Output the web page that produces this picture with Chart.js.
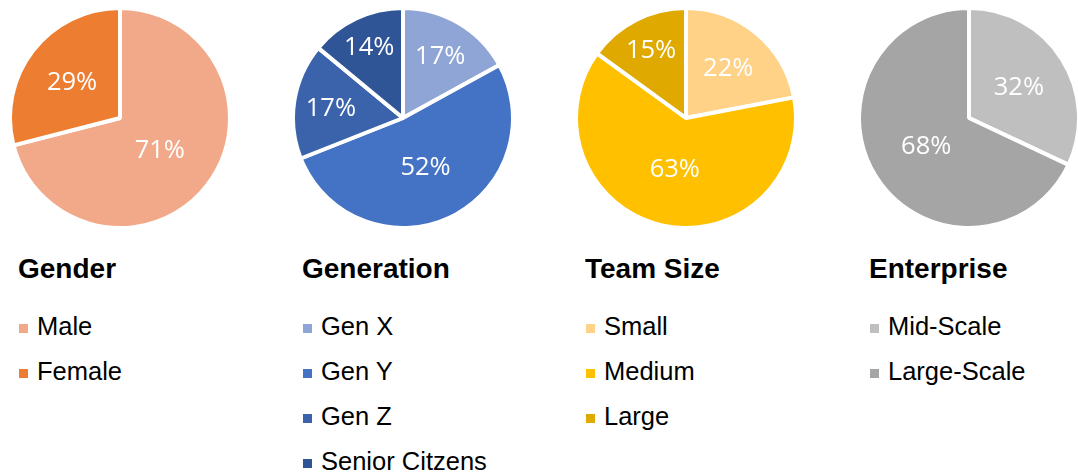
<!DOCTYPE html>
<html><head><meta charset="utf-8">
<script src="https://cdn.jsdelivr.net/npm/chart.js@4.4.1/dist/chart.umd.min.js"></script>
<style>
html,body{margin:0;padding:0;background:#fff;width:1078px;height:476px;overflow:hidden;position:relative;}
canvas{position:absolute;top:6px;}
.title{position:absolute;top:255px;font:bold 28px "Liberation Sans",Arial,sans-serif;line-height:28px;color:#000;white-space:nowrap;}
.legend{position:absolute;top:303.5px;margin:0;padding:0;list-style:none;font:25.5px "Liberation Sans",Arial,sans-serif;color:#000;}
.legend li{height:45.3px;line-height:45.3px;white-space:nowrap;position:relative;padding-left:19px;}
.legend .box{position:absolute;left:1px;top:20px;width:9px;height:9px;}
</style>
</head><body>
<canvas id="c0" width="224" height="224" style="left:8px"></canvas>
<canvas id="c1" width="224" height="224" style="left:291px"></canvas>
<canvas id="c2" width="224" height="224" style="left:574px"></canvas>
<canvas id="c3" width="224" height="224" style="left:857px"></canvas>
<div class="title" style="left:18px">Gender</div>
<div class="title" style="left:302px">Generation</div>
<div class="title" style="left:585px">Team Size</div>
<div class="title" style="left:869px">Enterprise</div>
<ul class="legend" id="l0" style="left:18px"></ul>
<ul class="legend" id="l1" style="left:302px"></ul>
<ul class="legend" id="l2" style="left:585px"></ul>
<ul class="legend" id="l3" style="left:869px"></ul>
<script>
// ---- data ----
const genderLabels = ['Male', 'Female'];
const genderValues = [71, 29];
const generationLabels = ['Gen X', 'Gen Y', 'Gen Z', 'Senior Citzens'];
const generationValues = [17, 52, 17, 14];
const teamLabels = ['Small', 'Medium', 'Large'];
const teamValues = [22, 63, 15];
const enterpriseLabels = ['Mid-Scale', 'Large-Scale'];
const enterpriseValues = [32, 68];

// ---- colours ----
const genderColors = ['#F1A98A', '#ED7D31'];
const generationColors = ['#8FA5D6', '#4472C4', '#3A63AB', '#2F5597'];
const teamColors = ['#FFD288', '#FFC000', '#E0A900'];
const enterpriseColors = ['#BFBFBF', '#A5A5A5'];

const LABEL_SIZE = 25.5;
const pctLabels = {
  id: 'pctLabels',
  afterDatasetsDraw(chart) {
    const ctx = chart.ctx;
    const meta = chart.getDatasetMeta(0);
    const vals = chart.data.datasets[0].data;
    const total = vals.reduce((a, b) => a + b, 0);
    ctx.save();
    ctx.font = LABEL_SIZE + 'px "Open Sans"';
    ctx.fillStyle = '#fff';
    ctx.textAlign = 'center';
    ctx.textBaseline = 'alphabetic';
    meta.data.forEach((arc, i) => {
      const p = arc.getProps(['x', 'y', 'startAngle', 'endAngle', 'outerRadius'], true);
      const share = vals[i] / total;
      const mid = (p.startAngle + p.endAngle) / 2;
      const r = (p.outerRadius - 2) * (0.4 + 0.047 / share);
      ctx.fillText(Math.round(share * 100) + '%', p.x + Math.cos(mid) * r, p.y + Math.sin(mid) * r + 0.357 * LABEL_SIZE);
    });
    ctx.restore();
  }
};

function makePie(id, legendId, labels, values, colors) {
  const chart = new Chart(document.getElementById(id), {
    type: 'pie',
    data: { labels: labels, datasets: [{ data: values, backgroundColor: colors, borderColor: '#fff', borderWidth: 4 }] },
    options: {
      responsive: false,
      devicePixelRatio: 1,
      animation: false,
      layout: { padding: 0 },
      plugins: { legend: { display: false }, tooltip: { enabled: false } }
    },
    plugins: [pctLabels]
  });
  const ul = document.getElementById(legendId);
  chart.data.labels.forEach((lab, i) => {
    const li = document.createElement('li');
    const box = document.createElement('span');
    box.className = 'box';
    box.style.background = chart.data.datasets[0].backgroundColor[i];
    li.appendChild(box);
    li.appendChild(document.createTextNode(lab));
    ul.appendChild(li);
  });
}
makePie('c0', 'l0', genderLabels, genderValues, genderColors);
makePie('c1', 'l1', generationLabels, generationValues, generationColors);
makePie('c2', 'l2', teamLabels, teamValues, teamColors);
makePie('c3', 'l3', enterpriseLabels, enterpriseValues, enterpriseColors);
</script>
</body></html>
